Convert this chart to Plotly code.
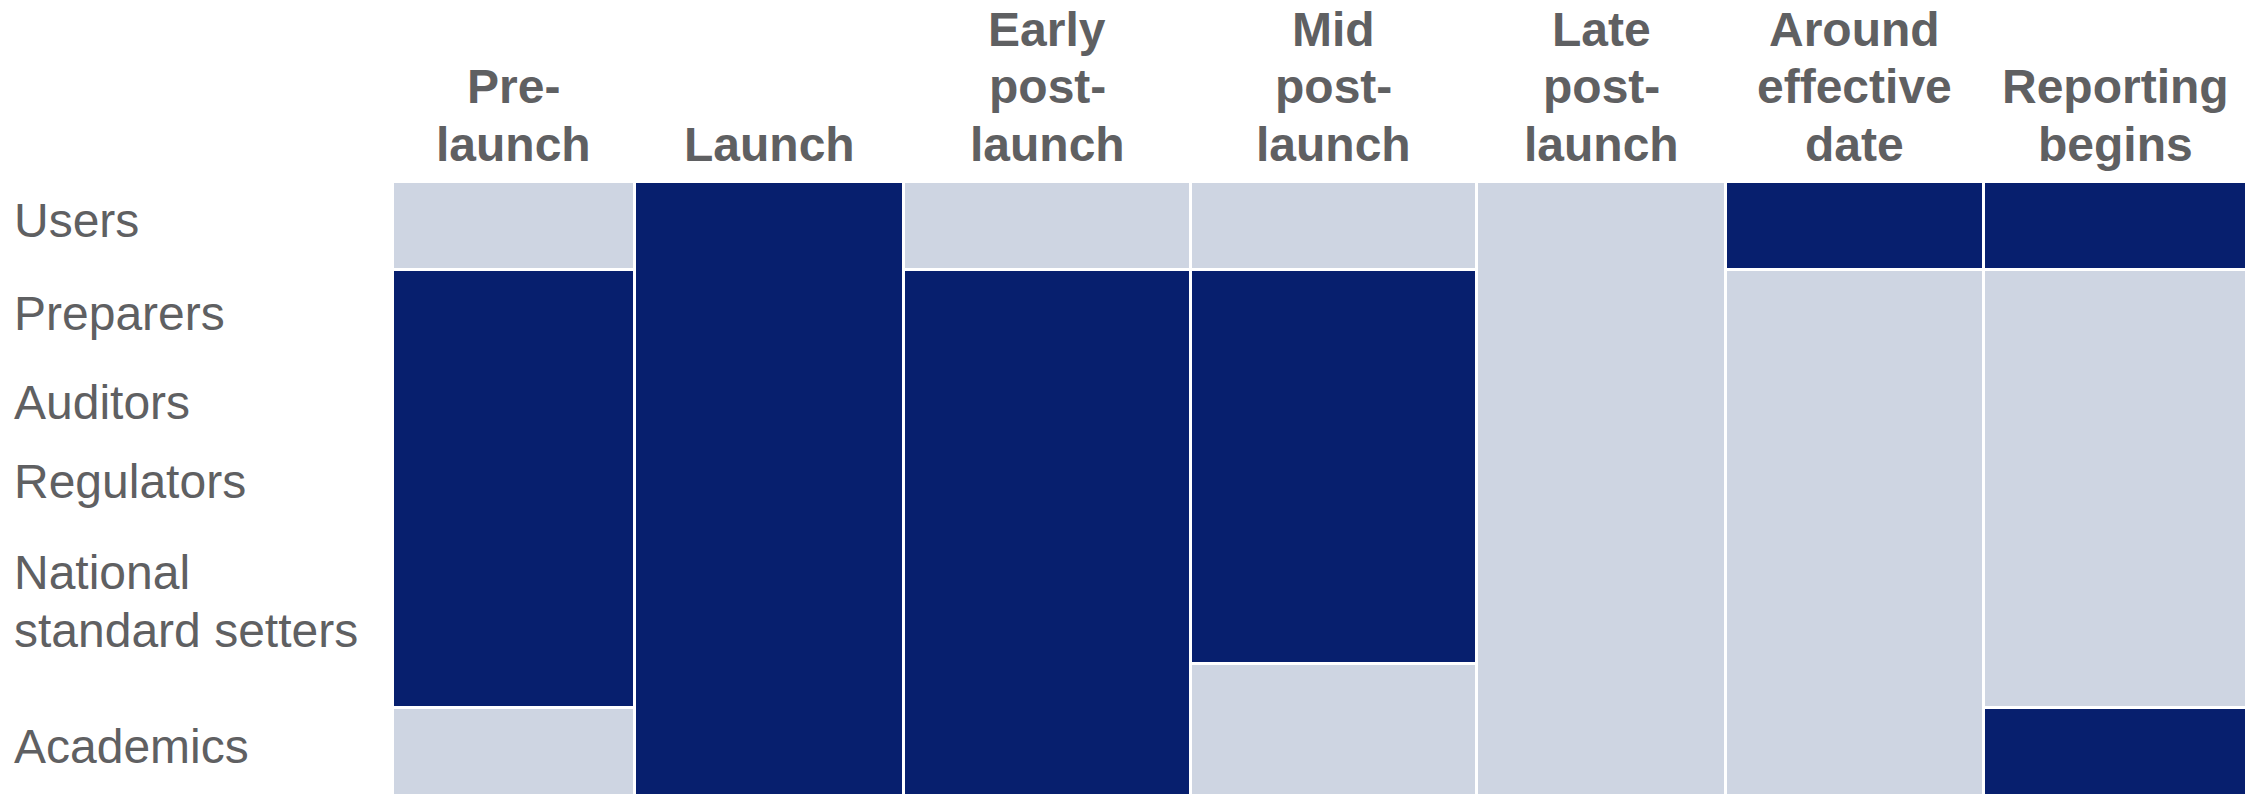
import plotly.graph_objects as go

# ---- data ----
phases = ["Pre-<br>launch", "Launch", "Early<br>post-<br>launch", "Mid<br>post-<br>launch",
          "Late<br>post-<br>launch", "Around<br>effective<br>date", "Reporting<br>begins"]
phase_widths = [241.5, 269, 287, 286.5, 249, 257.5, 263.5]

stakeholders = ["Users", "Preparers", "Auditors", "Regulators",
                "National<br>standard setters", "Academics"]
stakeholder_pos = [6.56, 5.5, 4.49, 3.59, 2.22, 0.57]

# segments per phase, listed bottom to top (in stakeholder rows) and whether engaged
seg_heights = [[1, 5, 1], [7], [6, 1], [1.5, 4.5, 1], [7], [6, 1], [1, 5, 1]]
seg_engaged = [[0, 1, 0], [1], [1, 0], [0, 1, 0], [0], [0, 1], [1, 0, 1]]

DARK = "#071F6E"
LIGHT = "#CED5E2"
TEXT = "#5F6062"
FONT = "Liberation Sans, Arial, sans-serif"
FS = 48
LINE_GAP = 57.5

fig = go.Figure()

traces = {1: dict(x=[], y=[], base=[], width=[]), 0: dict(x=[], y=[], base=[], width=[])}
left = 0.0
for w, hs, es in zip(phase_widths, seg_heights, seg_engaged):
    b = 0.0
    for h, e in zip(hs, es):
        t = traces[e]
        t["x"].append(left + w / 2)
        t["y"].append(h)
        t["base"].append(b)
        t["width"].append(w)
        b += h
    left += w
total_w = left

for e, col in ((0, LIGHT), (1, DARK)):
    t = traces[e]
    fig.add_trace(go.Bar(x=t["x"], y=t["y"], base=t["base"], width=t["width"],
                         marker=dict(color=col, line=dict(color="white", width=3)),
                         hoverinfo="skip", showlegend=False))

# column headers (bottom line sits just above the grid)
left = 0.0
for name, w in zip(phases, phase_widths):
    lines = name.split("<br>")
    n = len(lines)
    for i, ln in enumerate(lines):
        k = n - 1 - i  # 0 = bottom line
        fig.add_annotation(x=left + w / 2, y=7, xref="x", yref="y", text="<b>" + ln + "</b>",
                           showarrow=False, yanchor="middle", xanchor="center",
                           yshift=38 + k * LINE_GAP,
                           font=dict(family=FONT, size=FS, color=TEXT))
    left += w

# row labels
for name, p in zip(stakeholders, stakeholder_pos):
    lines = name.split("<br>")
    n = len(lines)
    for i, ln in enumerate(lines):
        fig.add_annotation(x=0, y=p, xref="paper", yref="y", text=ln, showarrow=False,
                           xanchor="left", yanchor="middle", align="left", xshift=-381,
                           yshift=((n - 1) / 2 - i) * LINE_GAP,
                           font=dict(family=FONT, size=FS, color=TEXT))

fig.update_layout(
    width=2252, height=788,
    margin=dict(l=385, r=13, t=174, b=0),
    paper_bgcolor="white", plot_bgcolor="white",
    barmode="overlay", bargap=0,
    xaxis=dict(visible=False, range=[0, total_w], fixedrange=True),
    yaxis=dict(visible=False, range=[0, 7], fixedrange=True),
)

fig.write_html("out.html")
